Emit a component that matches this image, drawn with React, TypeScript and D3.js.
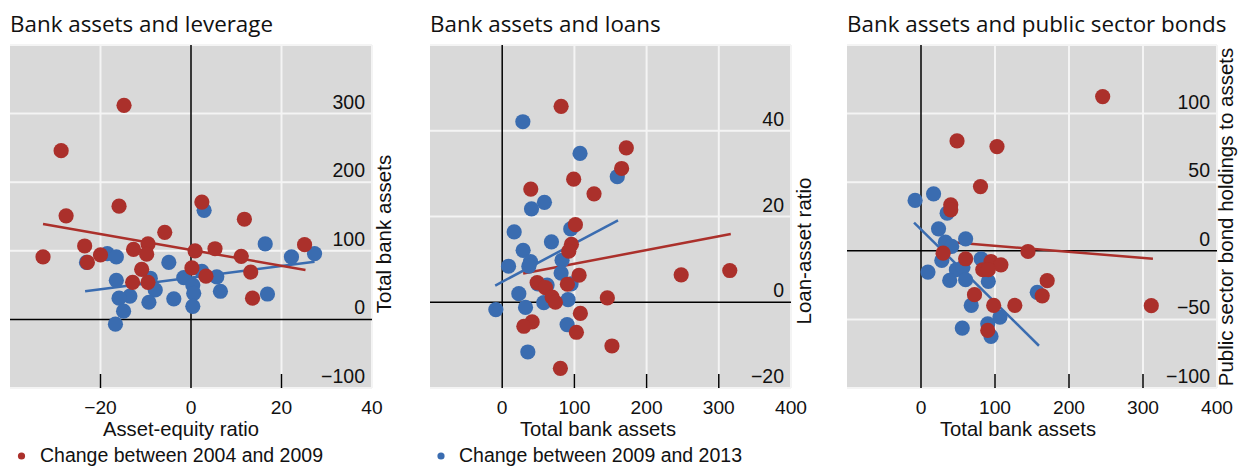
import React from "react";
import * as d3 from "d3";

type Pt = [number, number];

// ---------- Data ----------
const panelTitles = ["Bank assets and leverage", "Bank assets and loans", "Bank assets and public sector bonds"];
const xAxisTitles = ["Asset-equity ratio", "Total bank assets", "Total bank assets"];
const yAxisTitles = ["Total bank assets", "Loan-asset ratio", "Public sector bond holdings to assets"];
const legendLabels = ["Change between 2004 and 2009", "Change between 2009 and 2013"];

const leverageXTicks = [-20, 0, 20, 40];
const leverageYTicks = [-100, 0, 100, 200, 300];
const loansXTicks = [0, 100, 200, 300, 400];
const loansYTicks = [-20, 0, 20, 40];
const bondsXTicks = [0, 100, 200, 300, 400];
const bondsYTicks = [-100, -50, 0, 50, 100];

// Panel 1: asset-equity ratio (x) vs total bank assets (y)
const leverage2004_2009: Pt[] = [
  [-14.8, 312], [-28.7, 246], [-27.6, 151], [-15.9, 165], [-32.7, 91], [-23.5, 107],
  [-22.9, 83], [-20, 94], [-12.7, 102], [-9.5, 110], [-9.8, 95], [-10.9, 73],
  [-12.9, 54], [-9.5, 54], [-5.8, 127], [0.9, 100], [2.4, 171], [5.3, 103],
  [0.2, 75], [3.3, 63], [11.8, 146], [11.1, 92], [13.2, 69], [13.6, 31], [25.1, 109],
];
const leverage2009_2013: Pt[] = [
  [2.9, 159], [-18.5, 96], [-16.5, 91], [-23.1, 83], [-4.9, 83], [-16.5, 57],
  [-9, 60], [-7.9, 43], [-13.5, 34], [-15.9, 31], [-9.3, 25], [-14.9, 12],
  [-16.7, -7], [-3.8, 30], [-1.6, 61], [0.4, 50], [0.6, 38], [0.4, 19],
  [2.4, 70], [5.7, 62], [6.5, 41], [16.4, 110], [16.9, 37], [22.2, 91], [27.3, 96],
];
const leverageTrend2004_2009: Pt[] = [[-32.7, 139], [25.3, 72]];
const leverageTrend2009_2013: Pt[] = [[-23.4, 41], [27.3, 84]];

// Panel 2: total bank assets (x) vs loan-asset ratio (y)
const loans2004_2009: Pt[] = [
  [81.6, 45.7], [171.9, 36], [165.4, 31.2], [99, 28.7], [39.6, 26.4], [127.2, 25.3],
  [101.4, 18.1], [95.9, 13.5], [92.2, 11.9], [106.5, 6.3], [90.3, 4.2], [247.9, 6.4],
  [315.2, 7.4], [48.4, 4.6], [59.9, 3.4], [69.1, 1.2], [73.7, 0], [145.6, 1],
  [41.5, -4.6], [30, -5.6], [108.3, -2.6], [102.8, -7], [152, -10.2], [80.6, -15.4],
];
const loans2009_2013: Pt[] = [
  [28.6, 42.1], [107.8, 34.7], [159.4, 29.3], [58.5, 23.3], [40.6, 21.8], [16.6, 16.4],
  [94.9, 17.1], [68.2, 14.1], [29, 12.1], [39.2, 9.5], [36.9, 8.4], [8.8, 8.4],
  [82.9, 9.8], [81.6, 6.8], [95.4, 4.3], [49.3, 4.3], [62.2, 4], [23, 2],
  [57.6, -0.1], [91.2, 0.6], [32.3, -1.2], [-8.8, -1.7], [89.9, -5.2], [35.5, -11.6],
];
const loansTrend2004_2009: Pt[] = [[29, 6.7], [316.6, 15.9]];
const loansTrend2009_2013: Pt[] = [[-9.7, 3.9], [160.4, 19.1]];

// Panel 3: total bank assets (x) vs public sector bond holdings to assets (y)
const bonds2004_2009: Pt[] = [
  [245.5, 112.4], [48.7, 80.1], [102.7, 76], [80.4, 46.8], [40.2, 33.5], [40.2, 29.9],
  [29.9, -1.7], [60.3, -5.8], [144.6, -0.5], [94.6, -7.8], [108, -10.2], [83.5, -13.8],
  [91, -13.8], [170.5, -21.8], [163.8, -32.8], [72.3, -32], [98.2, -39.8], [126.8, -39.8],
  [90.2, -58], [311.2, -40],
];
const bonds2009_2013: Pt[] = [
  [-8, 36.7], [17, 41.5], [35.3, 27.4], [23.7, 16], [33, 6.3], [41.5, 3.2],
  [60.3, 8.7], [28.1, -7], [9.4, -15.5], [47.8, -13.8], [56.7, -12.1], [60.3, -21.1],
  [38.8, -21.6], [81.3, -5.8], [91, -22.3], [67.9, -39.8], [106.7, -48.3], [90.2, -53.2],
  [94.6, -62.4], [55.8, -56.3], [157.1, -30.3],
];
const bondsTrend2004_2009: Pt[] = [[29.9, 6.8], [313.4, -5.8]];
const bondsTrend2009_2013: Pt[] = [[-9.4, 20.6], [159.4, -69.2]];

// ---------- Style ----------
const RED = "#ab302b";
const BLUE = "#3a6cb0";
const BG = "#d9d9d9";
const GRID = "#f4f4f4";
const SANS = "'Liberation Sans', Arial, Helvetica, sans-serif";
const TITLE_FONT = "'Open Sans', 'Noto Sans', sans-serif";

const TOP = 45;
const BOTTOM = 388;

const panels = [
  {
    title: panelTitles[0], xTitle: xAxisTitles[0], yTitle: yAxisTitles[0],
    left: 10, right: 372, xDomain: [-40, 40], yDomain: [-100, 400],
    xTicks: leverageXTicks, yTicks: leverageYTicks,
    red: leverage2004_2009, blue: leverage2009_2013,
    redTrend: leverageTrend2004_2009, blueTrend: leverageTrend2009_2013,
    xTitleX: 181, yTitleX: 391, yTitleY: 234,
  },
  {
    title: panelTitles[1], xTitle: xAxisTitles[1], yTitle: yAxisTitles[1],
    left: 430, right: 791, xDomain: [-100, 400], yDomain: [-20, 60],
    xTicks: loansXTicks, yTicks: loansYTicks,
    red: loans2004_2009, blue: loans2009_2013,
    redTrend: loansTrend2004_2009, blueTrend: loansTrend2009_2013,
    xTitleX: 598, yTitleX: 811, yTitleY: 251,
  },
  {
    title: panelTitles[2], xTitle: xAxisTitles[2], yTitle: yAxisTitles[2],
    left: 847, right: 1217, xDomain: [-100, 400], yDomain: [-100, 150],
    xTicks: bondsXTicks, yTicks: bondsYTicks,
    red: bonds2004_2009, blue: bonds2009_2013,
    redTrend: bondsTrend2004_2009, blueTrend: bondsTrend2009_2013,
    xTitleX: 1018, yTitleX: 1233, yTitleY: 217,
  },
];

const fmt = (v: number) => (v < 0 ? "\u2212" + Math.abs(v) : String(v));

function Panel({ p }: { p: (typeof panels)[number] }) {
  const x = d3.scaleLinear().domain(p.xDomain).range([p.left, p.right]);
  const y = d3.scaleLinear().domain(p.yDomain).range([BOTTOM, TOP]);
  const line = d3.line<Pt>().x((d) => x(d[0])).y((d) => y(d[1]));
  const hGrid = [...p.yTicks.filter((t) => t !== 0), p.yDomain[1]];
  const vGrid = p.xTicks.filter((t) => t !== 0);
  const innerTicks = p.xTicks.filter((t) => t > p.xDomain[0] && t < p.xDomain[1] && t !== 0);
  return (
    <g>
      <text x={p.left} y={32} fontFamily={TITLE_FONT} fontSize={22.4} fill="#111">{p.title}</text>
      <rect x={p.left} y={TOP} width={p.right - p.left} height={BOTTOM - TOP} fill={BG} />
      {hGrid.map((t) => (
        <line key={"h" + t} x1={p.left} x2={p.right} y1={y(t)} y2={y(t)} stroke={GRID} strokeWidth={2} />
      ))}
      {vGrid.map((t) => (
        <line key={"v" + t} x1={x(t)} x2={x(t)} y1={TOP} y2={BOTTOM} stroke={GRID} strokeWidth={2} />
      ))}
      <line x1={x(0)} x2={x(0)} y1={TOP} y2={BOTTOM} stroke="#000" strokeWidth={1.5} />
      <line x1={p.left} x2={p.right} y1={y(0)} y2={y(0)} stroke="#000" strokeWidth={1.5} />
      {innerTicks.map((t) => (
        <line key={"t" + t} x1={x(t)} x2={x(t)} y1={BOTTOM - 14} y2={BOTTOM} stroke="#000" strokeWidth={1.5} />
      ))}
      {p.yTicks.map((t) => (
        <text key={"yl" + t} x={p.right - 7} y={y(t) - 5} textAnchor="end" fontFamily={SANS} fontSize={19.5} fill="#111">
          {fmt(t)}
        </text>
      ))}
      {p.xTicks.map((t) => (
        <text key={"xl" + t} x={x(t)} y={414} textAnchor="middle" fontFamily={SANS} fontSize={19.2} fill="#111">
          {fmt(t)}
        </text>
      ))}
      <text x={p.xTitleX} y={436} textAnchor="middle" fontFamily={SANS} fontSize={20.2} fill="#111">{p.xTitle}</text>
      <text
        transform={`translate(${p.yTitleX},${p.yTitleY}) rotate(-90)`}
        textAnchor="middle" fontFamily={SANS} fontSize={20.5} fill="#111"
      >
        {p.yTitle}
      </text>
      <path d={line(p.blueTrend) || ""} stroke={BLUE} strokeWidth={2.5} fill="none" />
      <path d={line(p.redTrend) || ""} stroke={RED} strokeWidth={2.5} fill="none" />
      {p.blue.map((d, i) => (
        <circle key={"b" + i} cx={x(d[0])} cy={y(d[1])} r={7.6} fill={BLUE} />
      ))}
      {p.red.map((d, i) => (
        <circle key={"r" + i} cx={x(d[0])} cy={y(d[1])} r={7.6} fill={RED} />
      ))}
    </g>
  );
}

export default function App() {
  return (
    <svg width={1239} height={466} style={{ position: "absolute", left: 0, top: 0, display: "block" }}>
      <rect width={1239} height={466} fill="#fff" />
      {panels.map((p, i) => (
        <Panel key={i} p={p} />
      ))}
      <circle cx={21.5} cy={456} r={3.6} fill={RED} />
      <text x={40} y={462} fontFamily={SANS} fontSize={19.5} fill="#111">{legendLabels[0]}</text>
      <circle cx={441} cy={456} r={3.6} fill={BLUE} />
      <text x={459} y={462} fontFamily={SANS} fontSize={19.5} fill="#111">{legendLabels[1]}</text>
    </svg>
  );
}
